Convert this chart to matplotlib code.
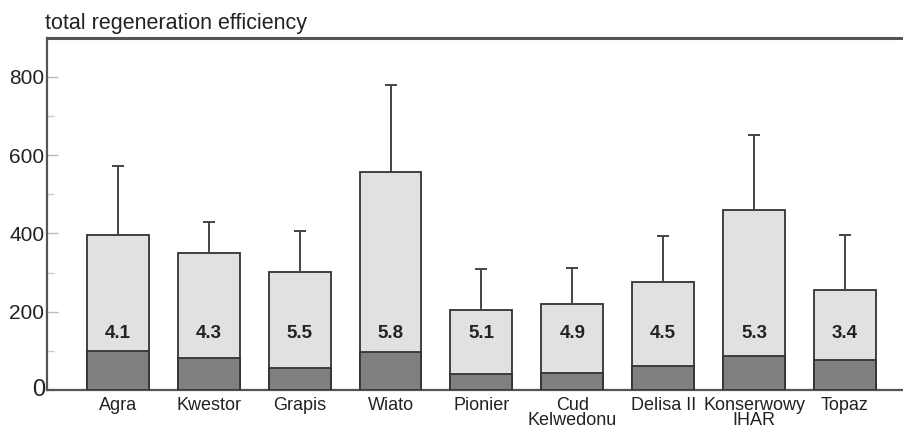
import matplotlib
matplotlib.use("Agg")
import matplotlib.pyplot as plt
from matplotlib.ticker import MultipleLocator

plt.rcParams["font.family"] = ["Liberation Sans", "DejaVu Sans"]

cultivars = ["Agra", "Kwestor", "Grapis", "Wiato", "Pionier", "Cud\nKelwedonu",
             "Delisa II", "Konserwowy\nIHAR", "Topaz"]
total = [397, 349, 302, 557, 204, 219, 277, 460, 255]
err_top = [573, 429, 407, 780, 308, 311, 394, 652, 397]
dark_part = [100, 83, 55, 98, 41, 44, 62, 87, 77]
ratio_labels = ["4.1", "4.3", "5.5", "5.8", "5.1", "4.9", "4.5", "5.3", "3.4"]

fig = plt.figure(figsize=(9.04, 4.30), dpi=100)
ax = fig.add_axes([0.052, 0.093, 0.955, 0.819])

x = list(range(len(cultivars)))
yerr_up = [e - t for e, t in zip(err_top, total)]
edge = "#333333"

ax.bar(x, total, width=0.68, color="#e1e1e1", edgecolor=edge, linewidth=1.3,
       yerr=[[0] * len(x), yerr_up], zorder=2,
       error_kw=dict(ecolor="#444444", elinewidth=1.4, capsize=4.5, capthick=1.4))
ax.bar(x, dark_part, width=0.68, color="#808080", edgecolor=edge, linewidth=1.3, zorder=3)

for xi, lab in zip(x, ratio_labels):
    ax.text(xi, 145, lab, ha="center", va="center", fontsize=13.5,
            fontweight="bold", color="#222222", zorder=4)

ax.set_xlim(-0.78, 8.72)
ax.set_ylim(0, 900)
ax.set_xticks(x)
ax.set_xticklabels(cultivars, fontsize=13, color="#222222", linespacing=0.88)
ax.tick_params(axis="x", length=0, pad=5)

ax.yaxis.set_major_locator(MultipleLocator(200))
ax.yaxis.set_minor_locator(MultipleLocator(100))
ax.set_yticks([200, 400, 600, 800])
ax.tick_params(axis="y", which="major", direction="in", length=8, width=1,
               color="#bbbbbb", labelsize=15, labelcolor="#222222", pad=2)
ax.tick_params(axis="y", which="minor", direction="in", length=5, width=1,
               color="#cccccc")
ax.text(-0.80, 0, "0", ha="right", va="center", fontsize=17, color="#222222")

for side in ["left", "bottom", "top"]:
    ax.spines[side].set_color("#555555")
    ax.spines[side].set_linewidth(1.6)
ax.spines["top"].set_linewidth(2.2)
ax.spines["right"].set_visible(False)

fig.text(0.05, 0.946, "total regeneration efficiency", ha="left", va="center",
         fontsize=15.5, color="#222222")

fig.savefig("out.png", dpi=100)
